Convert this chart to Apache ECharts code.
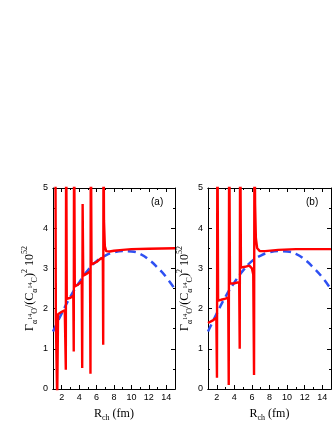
<!DOCTYPE html>
<html>
<head>
<meta charset="utf-8">
<script src="https://cdn.jsdelivr.net/npm/echarts@6/dist/echarts.min.js"></script>
<style>
  html, body { margin: 0; background: #fff; }
  #chart { width: 332px; height: 430px; }
</style>
</head>
<body>
<div id="chart"></div>
<script>
// tick positions
var xMajor = [2, 4, 6, 8, 10, 12, 14];
var xMinor = [3, 5, 7, 9, 11, 13];

// dashed blue curve (same in both panels)
var blueX = [1, 2, 3, 4, 5, 6, 7, 8, 9, 10, 11, 12, 13, 14, 15];
var blueY = [1.43, 1.88, 2.3, 2.65, 2.95, 3.18, 3.32, 3.4, 3.43, 3.42, 3.36, 3.22, 3.02, 2.78, 2.48];

// red curve, panel (a)
var redAX = [1.28, 1.33, 1.48, 1.58, 1.65, 2.0, 2.35, 2.43, 2.47, 2.51, 2.58, 3.0, 3.33, 3.38, 3.42, 3.5, 3.9, 4.3, 4.35, 4.4,
  4.47, 4.9, 5.25, 5.3, 5.34, 5.42, 6.0, 6.6, 6.72, 6.76, 6.8, 6.85, 6.95, 7.1, 7.5, 8, 9, 10, 12, 15];
var redAY = [6, 1.7, -0.3, 1.86, 1.88, 1.92, 1.96, 1.98, 0.48, 7, 2.24, 2.27, 2.32, 0.93, 7, 2.55, 2.6, 2.68, 0.52, 4.6,
  2.82, 2.87, 2.93, 0.38, 7, 3.1, 3.16, 3.27, 3.2, 1.1, 7, 4.2, 3.55, 3.43, 3.42, 3.44, 3.46, 3.48, 3.49, 3.5];

// red curve, panel (b)
var redBX = [1.0, 1.5, 1.95, 2.02, 2.07, 2.15, 2.5, 3.0, 3.3, 3.36, 3.41, 3.5, 4.0, 4.55, 4.61, 4.66, 4.75, 5.2, 5.7, 6.0,
  6.15, 6.24, 6.29, 6.36, 6.45, 6.6, 6.9, 7.5, 9, 11, 15];
var redBY = [1.64, 1.7, 1.77, 0.28, 7, 2.2, 2.22, 2.25, 2.28, 0.1, 7, 2.62, 2.63, 2.66, 1.0, 7, 3.02, 3.04, 3.07, 3.0,
  2.85, 0.35, 7, 4.6, 3.75, 3.5, 3.43, 3.43, 3.46, 3.48, 3.48];

function zip(xs, ys) {
  return xs.map(function (x, i) { return [x, ys[i]]; });
}

var serif = 'Liberation Serif';
var sans = 'Liberation Sans';

var yName = 'Γ{s|α}{ss|14}{s|O}/(C{s|α}{ss|14}{s|C}){p|2} 10{p|52}';
var xName = 'R{s|ch} (fm)';
var richStyle = {
  s: { fontFamily: serif, fontSize: 8, lineHeight: 8, verticalAlign: 'bottom', color: '#000' },
  ss: { fontFamily: serif, fontSize: 6, lineHeight: 6, verticalAlign: 'middle', color: '#000' },
  p: { fontFamily: serif, fontSize: 8, lineHeight: 8, verticalAlign: 'top', color: '#000' }
};

function makeX(g) {
  var base = {
    gridIndex: g, type: 'value', min: 1, max: 15,
    splitLine: { show: false },
    axisLine: { lineStyle: { color: '#000', width: 1 } }
  };
  var tick = function (vals, len) {
    return { inside: true, length: len, customValues: vals, lineStyle: { color: '#000', width: 1 } };
  };
  return [
    Object.assign({}, base, {
      position: 'bottom', axisTick: tick(xMajor, 4),
      axisLabel: { customValues: xMajor, fontSize: 9, margin: 4, color: '#000', fontFamily: sans },
      name: xName, nameLocation: 'middle', nameGap: 17,
      nameTextStyle: { fontFamily: serif, fontSize: 12, lineHeight: 16, color: '#000', rich: richStyle }
    }),
    Object.assign({}, base, { position: 'bottom', axisTick: tick(xMinor, 2), axisLabel: { show: false } }),
    Object.assign({}, base, { position: 'top', axisTick: tick(xMajor, 4), axisLabel: { show: false } }),
    Object.assign({}, base, { position: 'top', axisTick: tick(xMinor, 2), axisLabel: { show: false } })
  ];
}

function makeY(g, gap) {
  var base = {
    gridIndex: g, type: 'value', min: 0, max: 5, interval: 1,
    splitLine: { show: false },
    axisLine: { lineStyle: { color: '#000', width: 1 } },
    axisTick: { inside: true, length: 4, lineStyle: { color: '#000' } },
    minorTick: { show: true, splitNumber: 2, length: 2, lineStyle: { color: '#000' } }
  };
  return [
    Object.assign({}, base, {
      position: 'left',
      axisLabel: { fontSize: 9, margin: 5, color: '#000', fontFamily: sans },
      name: yName, nameLocation: 'middle', nameGap: gap, nameRotate: 90,
      nameTextStyle: { fontFamily: serif, fontSize: 12, lineHeight: 18, color: '#000', rich: richStyle }
    }),
    Object.assign({}, base, { position: 'right', axisLabel: { show: false } })
  ];
}

function series(g, redData) {
  return [
    {
      type: 'line', xAxisIndex: g * 4, yAxisIndex: g * 2, data: zip(blueX, blueY),
      smooth: true, showSymbol: false, symbol: 'none',
      lineStyle: { color: '#2e50f2', width: 2.5, type: [8, 5] }
    },
    {
      type: 'line', xAxisIndex: g * 4, yAxisIndex: g * 2, data: redData,
      showSymbol: false, symbol: 'none',
      lineStyle: { color: '#ff0000', width: 2.4 }
    }
  ];
}

var chart = echarts.init(document.getElementById('chart'), null, { renderer: 'canvas' });
chart.setOption({
  backgroundColor: '#fff',
  animation: false,
  grid: [
    { left: 53, top: 188, width: 122, height: 201 },
    { left: 208, top: 188, width: 123, height: 201 }
  ],
  xAxis: makeX(0).concat(makeX(1)),
  yAxis: makeY(0, 14).concat(makeY(1, 12)),
  graphic: [
    { type: 'text', left: 151, top: 197, style: { text: '(a)', font: '10px "Liberation Sans"', fill: '#000' } },
    { type: 'text', left: 306, top: 197, style: { text: '(b)', font: '10px "Liberation Sans"', fill: '#000' } }
  ],
  series: series(0, zip(redAX, redAY)).concat(series(1, zip(redBX, redBY)))
});
</script>
</body>
</html>
